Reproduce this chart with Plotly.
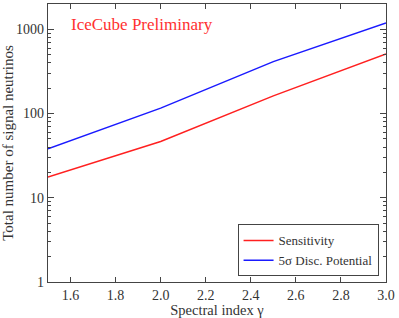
import plotly.graph_objects as go

gamma = [1.5, 2.0, 2.5, 3.0]
sensitivity = [17.6, 46.5, 162, 511]
discovery = [38.1, 116, 414, 1191]
ytick_vals = [1, 10, 100, 1000]
ytick_text = ["1", "10", "100", "1000"]
xtick_vals = [1.6, 1.8, 2.0, 2.2, 2.4, 2.6, 2.8, 3.0]
xtick_text = ["1.6", "1.8", "2.0", "2.2", "2.4", "2.6", "2.8", "3.0"]

FONT = "Liberation Serif"

fig = go.Figure()
fig.add_trace(go.Scatter(x=gamma, y=sensitivity, mode="lines", name="Sensitivity",
                         line=dict(color="#ff2020", width=1.5)))
fig.add_trace(go.Scatter(x=gamma, y=discovery, mode="lines", name="5σ Disc. Potential",
                         line=dict(color="#1a1aff", width=1.5)))

axis_common = dict(showline=True, linecolor="#444", linewidth=1.2, mirror="ticks",
                   ticks="inside", tickcolor="#444", showgrid=False, zeroline=False,
                   tickfont=dict(family=FONT, size=14, color="#333"))

fig.update_layout(
    width=399, height=318,
    margin=dict(l=48, r=13, t=4, b=36, autoexpand=False),
    plot_bgcolor="white", paper_bgcolor="white",
    font=dict(family=FONT, color="#333"),
    xaxis=dict(range=[1.5, 3.0], tickvals=xtick_vals, ticktext=xtick_text, ticklen=5,
               title=dict(text="Spectral index γ", font=dict(family=FONT, size=14.5), standoff=0),
               **axis_common),
    yaxis=dict(type="log", range=[0, 3.301], tickvals=ytick_vals, ticktext=ytick_text, ticklen=6,
               minor=dict(ticks="inside", ticklen=3, tickcolor="#444",
                          tickvals=[v * m for v in [1, 10, 100, 1000] for m in range(2, 10) if v * m < 2000]),
               title=dict(text="Total number of signal neutrinos", font=dict(family=FONT, size=15), standoff=3),
               **axis_common),
    legend=dict(x=0.978, y=0.02, xanchor="right", yanchor="bottom",
                bgcolor="white", bordercolor="#444", borderwidth=1,
                font=dict(family=FONT, size=13, color="#333"), tracegroupgap=0,
                itemwidth=30),
    showlegend=True,
)
fig.add_annotation(text="IceCube Preliminary", xref="paper", yref="paper", x=0.062, y=0.925,
                   xanchor="left", yanchor="middle", showarrow=False,
                   font=dict(family=FONT, size=17, color="#ff3030"))

fig.write_html("out.html", config={"displayModeBar": False},
               post_script="document.body.style.margin='0';")
